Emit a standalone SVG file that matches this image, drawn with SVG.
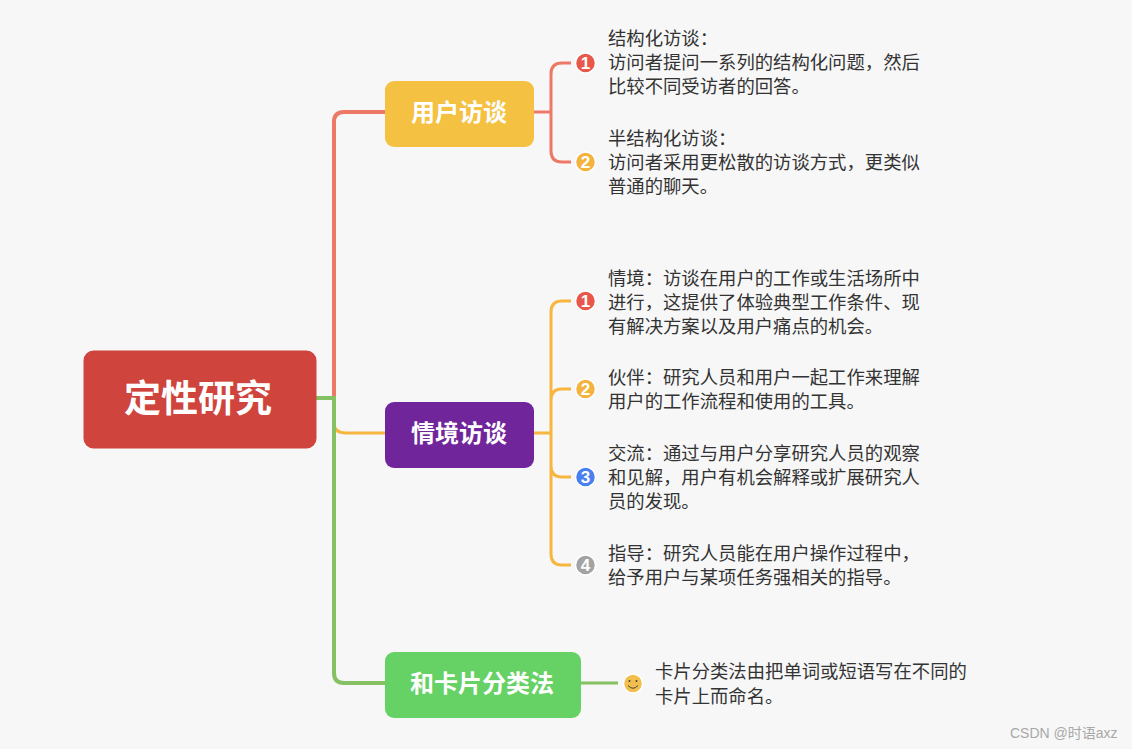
<svg xmlns="http://www.w3.org/2000/svg" width="1132" height="749" viewBox="0 0 1132 749">
<style>
text{font-family:"Noto Sans CJK SC","Liberation Sans",sans-serif}
.t{font-size:18.35px;fill:#333}
.h{font-size:24px;font-weight:700;fill:#fff;text-anchor:middle}
.c{fill:none;stroke-linecap:butt}
.n{font-size:17px;font-weight:700;fill:#fff;text-anchor:middle;font-family:"Liberation Sans",sans-serif}
.r{stroke:#ee7866}.y{stroke:#f6b63f}.g{stroke:#85c063}
</style>
<rect width="1132" height="749" fill="#f7f7f7"/>
<g id="connectors">
<path class="c r" stroke-width="4" d="M334 398V122Q334 112 344 112H386"/>
<path class="c y" stroke-width="3" d="M334 398V423Q334 433 346 433H386"/>
<path class="c g" stroke-width="4" d="M316 398H334V673Q334 683 344 683H386"/>
<path class="c r" stroke-width="3" d="M534 112H551M571 63H562Q551 63 551 74V151Q551 162 562 162H571"/>
<path class="c y" stroke-width="3" d="M534 433H551M571 301H562Q551 301 551 312V554Q551 565 562 565H571M571 389H562Q551 389 551 400V466Q551 477 562 477H571"/>
<path class="c g" stroke-width="3" d="M581 683H618"/>
</g>
<g id="root"><rect x="83.500" y="350.500" width="233" height="98" rx="10" fill="#cf443d"/><text x="198" y="412" text-anchor="middle" font-size="37" font-weight="700" fill="#fff">定性研究</text></g>
<g id="n1"><rect x="385" y="81" width="149" height="66" rx="9" fill="#f5c142"/><text class="h" x="459" y="120.500">用户访谈</text></g>
<g id="n2"><rect x="385" y="402" width="149" height="66" rx="9" fill="#70269a"/><text class="h" x="459" y="441.500">情境访谈</text></g>
<g id="n3"><rect x="385" y="652" width="196" height="66" rx="9" fill="#66d164"/><text class="h" x="482" y="691.500">和卡片分类法</text></g>
<g id="a1"><circle cx="585.500" cy="63" r="10" fill="#e8574a" stroke="#fff" stroke-width="1.500"/><text class="n" x="585.500" y="69">1</text><text class="t" x="608" y="45">结构化访谈：</text><text class="t" x="608" y="69">访问者提问一系列的结构化问题，然后</text><text class="t" x="608" y="93">比较不同受访者的回答。</text></g>
<g id="a2"><circle cx="585.500" cy="162" r="10" fill="#f4b33f" stroke="#fff" stroke-width="1.500"/><text class="n" x="585.500" y="168">2</text><text class="t" x="608" y="145">半结构化访谈：</text><text class="t" x="608" y="169">访问者采用更松散的访谈方式，更类似</text><text class="t" x="608" y="193">普通的聊天。</text></g>
<g id="b1"><circle cx="585.500" cy="301" r="10" fill="#e8574a" stroke="#fff" stroke-width="1.500"/><text class="n" x="585.500" y="307">1</text><text class="t" x="608" y="285">情境：访谈在用户的工作或生活场所中</text><text class="t" x="608" y="309">进行，这提供了体验典型工作条件、现</text><text class="t" x="608" y="333">有解决方案以及用户痛点的机会。</text></g>
<g id="b2"><circle cx="585.500" cy="389" r="10" fill="#f4b33f" stroke="#fff" stroke-width="1.500"/><text class="n" x="585.500" y="395">2</text><text class="t" x="608" y="384">伙伴：研究人员和用户一起工作来理解</text><text class="t" x="608" y="408">用户的工作流程和使用的工具。</text></g>
<g id="b3"><circle cx="585.500" cy="477" r="10" fill="#4a7ff0" stroke="#fff" stroke-width="1.500"/><text class="n" x="585.500" y="483">3</text><text class="t" x="608" y="460">交流：通过与用户分享研究人员的观察</text><text class="t" x="608" y="484">和见解，用户有机会解释或扩展研究人</text><text class="t" x="608" y="508">员的发现。</text></g>
<g id="b4"><circle cx="585.500" cy="565" r="10" fill="#a3a3a3" stroke="#fff" stroke-width="1.500"/><text class="n" x="585.500" y="571">4</text><text class="t" x="608" y="560">指导：研究人员能在用户操作过程中，</text><text class="t" x="608" y="584">给予用户与某项任务强相关的指导。</text></g>
<g id="c1"><circle cx="633" cy="683.500" r="9.500" fill="#f2bf4c" stroke="#fff" stroke-width="1.500"/><circle cx="629.500" cy="681" r="1" fill="#444"/><circle cx="636.500" cy="681" r="1" fill="#444"/><path d="M628 685.500Q633 691 638 685.500" fill="none" stroke="#444" stroke-width="1"/><text class="t" x="655" y="678">卡片分类法由把单词或短语写在不同的</text><text class="t" x="655" y="703">卡片上而命名。</text></g>
<text x="1010" y="738" font-size="14" fill="#a8a8a8" style="font-family:'Liberation Sans','Noto Sans CJK SC',sans-serif">CSDN @时语axz</text>
</svg>
